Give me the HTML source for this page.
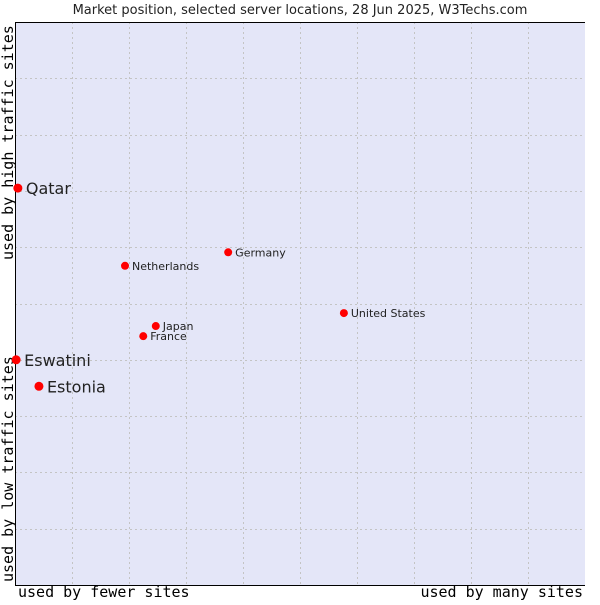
<!DOCTYPE html>
<html><head><meta charset="utf-8"><style>
body{margin:0;background:#fff;width:600px;height:600px;overflow:hidden}
text{font-family:"DejaVu Sans","Liberation Sans",sans-serif;fill:#222}
.mono{font-family:"DejaVu Sans Mono","Liberation Mono",monospace;font-size:15px;fill:#000}
</style></head><body>
<svg id="chart" width="600" height="600" xmlns="http://www.w3.org/2000/svg">
<text x="300" y="14" text-anchor="middle" font-size="13">Market position, selected server locations, 28 Jun 2025, W3Techs.com</text>
<rect x="15" y="22" width="570" height="563" fill="#e4e6f8"/>
<g id="grid"></g>
<line x1="15.5" y1="22" x2="15.5" y2="585" stroke="#000"/>
<line x1="15" y1="22.5" x2="585" y2="22.5" stroke="#000"/>
<line x1="15" y1="585.5" x2="585" y2="585.5" stroke="#000"/>
<text class="mono" x="18" y="597">used by fewer sites</text>
<text class="mono" x="583" y="597" text-anchor="end">used by many sites</text>
<text class="mono" transform="translate(13,260) rotate(-90)">used by high traffic sites</text>
<text class="mono" transform="translate(13,582) rotate(-90)">used by low traffic sites</text>
<g id="points"></g>
</svg>
<script>
const countries=["Qatar","Eswatini","Estonia","Netherlands","Germany","United States","Japan","France"];
const xValues=[0.5,0.2,4.2,19.3,37.4,57.7,24.7,22.5];
const yValues=[70.5,40,35.3,56.7,59.1,48.3,46,44.2];
const bigLabel=[true,true,true,false,false,false,false,false];
const NS="http://www.w3.org/2000/svg";
const X0=15,X1=585,Y0=585,Y1=22;
const sx=v=>X0+v/100*(X1-X0), sy=v=>Y0-v/100*(Y0-Y1);
const grid=document.getElementById('grid');
for(let i=1;i<10;i++){
  const gx=Math.round(X0+i*57)+0.5;
  const l=document.createElementNS(NS,'line');
  
  
  l.setAttribute('x1',gx);l.setAttribute('x2',gx);l.setAttribute('y1',Y1);l.setAttribute('y2',Y0);
  l.setAttribute('stroke','#c4c4c4');l.setAttribute('stroke-dasharray','2,3');grid.appendChild(l);
  const gy=Math.round(Y0-i*56.3)+0.5;
  const h=document.createElementNS(NS,'line');
  
  
  h.setAttribute('x1',X0);h.setAttribute('x2',X1);h.setAttribute('y1',gy);h.setAttribute('y2',gy);
  h.setAttribute('stroke','#c4c4c4');h.setAttribute('stroke-dasharray','2,3');grid.appendChild(h);
}
const pts=document.getElementById('points');
countries.forEach((c,i)=>{
  const x=sx(xValues[i]),y=sy(yValues[i]);
  const d=document.createElementNS(NS,'circle');
  
  
  d.setAttribute('cx',x);d.setAttribute('cy',y);d.setAttribute('r',bigLabel[i]?4.5:4);d.setAttribute('fill','#f00');
  pts.appendChild(d);
  const t=document.createElementNS(NS,'text');
  
  
  t.setAttribute('x',x+(bigLabel[i]?8:7));t.setAttribute('y',y+(bigLabel[i]?6:4));
  t.setAttribute('font-size',bigLabel[i]?16:11);t.textContent=c;
  pts.appendChild(t);
});
</script>
</body></html>
